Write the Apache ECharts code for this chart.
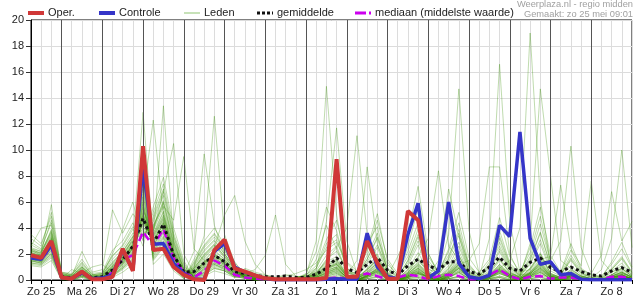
<!DOCTYPE html>
<html><head><meta charset="utf-8">
<script src="https://cdn.jsdelivr.net/npm/echarts@6/dist/echarts.min.js"></script>
<style>html,body{margin:0;padding:0;background:#fff}#c{width:635px;height:300px}</style>
</head><body><div id="c"></div>
<script>
// x index i = 6-hour steps starting Zo 25 06:00 (i=0) to Ma 9 00:00 (i=59)
const dayLabels = ["Zo 25","Ma 26","Di 27","Wo 28","Do 29","Vr 30","Za 31","Zo 1","Ma 2","Di 3","Wo 4","Do 5","Vr 6","Za 7","Zo 8"];
const legendNames = ["Oper.","Controle","Leden","gemiddelde","mediaan (middelste waarde)"];

const oper = [1.9,1.7,3.0,0.2,0.1,0.65,0.05,0.05,0.25,2.4,0.7,10.3,2.3,2.4,1.0,0.4,0.05,0.0,2.3,3.1,
  0.9,0.65,0.35,0.13,0.05,0.05,0.05,0.05,0.05,0.15,9.3,0.25,0.25,3.0,1.3,0.1,0.1,5.3,4.6,0.05];

const controle = [1.7,1.6,2.7,0.2,0.1,0.6,0.1,0.15,0.4,2.3,0.8,8.7,2.75,2.8,1.3,0.5,0.05,0.05,2.2,2.8,
  1.0,0.6,0.35,0.1,0.02,0.02,0.02,0.02,0.02,0.05,0.1,0.05,0.05,3.6,1.0,0.25,0.1,3.5,5.9,0.15,
  0.7,6.0,1.3,0.25,0.1,0.35,4.2,3.35,11.4,3.2,1.2,1.4,0.4,0.5,0.05,0.02,0.02,0.02,0.02,0.02];

const gemiddelde = [1.9,1.7,2.7,0.25,0.15,0.55,0.15,0.26,0.77,1.55,2.6,4.75,2.8,4.3,1.9,0.6,0.65,1.3,1.9,1.4,
  0.65,0.5,0.35,0.25,0.25,0.3,0.2,0.2,0.45,0.9,1.7,0.9,0.55,1.2,1.75,0.75,0.4,1.1,1.6,1.1,
  0.8,1.4,1.4,0.65,0.45,1.0,1.75,0.9,0.7,1.35,1.7,0.95,0.65,1.0,0.65,0.4,0.3,0.7,0.95,0.6];

const mediaan = [1.8,1.6,2.5,0.2,0.1,0.5,0.1,0.1,0.6,1.6,1.9,3.7,2.6,3.9,1.7,0.6,0.2,0.7,1.5,1.1,
  0.4,0.2,0.1,0.05,0.05,0.05,0.05,0.05,0.05,0.1,0.2,0.1,0.3,0.5,0.3,0.05,0.2,0.4,0.3,0.05,
  0.3,0.4,0.3,0.05,0.05,0.4,0.8,0.3,0.05,0.25,0.3,0.1,0.2,0.2,0.05,0.05,0.05,0.25,0.25,0.05];

const leden = [
 [1.8,1.6,2.9,0.2,0.1,0.6,0.1,0.2,0.7,1.5,2.4,5.1,2.8,4.4,1.8,0.4,0.5,1.2,2.0,1.3,0.5, 0.3,0.1,0,0,0,0.1,0.4,3.0, 14.9,5.0,0.6,0.2,0.8,1.5,0.3,0, 0.4,1.2,0.5,0.2,0.6,1.8,0.3,0, 0.2,0.9,0.4,0.1,0.5,1.2,0.3,0.1, 0.4,0.1,0,0,0.3,0.6,0.2],
 [2.1,1.9,3.4,0.3,0.2,0.8,0.2,0.3,1.1,1.9,3.0,4.2,3.5,5.2,2.3,0.7,0.3,0.9,1.5,1.1,0.4, 0.5,0.2,0.1,0,0.1,0,0.2,0.8, 4.5,11.7,3.0,0.5,0.3,0.9,0.1,0, 0.2,0.6,0.2,0,0.3,0.9,0.2,0, 0.1,0.5,0.2,0,0.3,0.8,0.2,0, 0.2,0,0,0,0.1,0.4,0.1],
 [1.6,1.5,2.4,0.1,0.1,0.4,0.0,0.1,0.5,1.2,2.1,6.0,2.2,3.6,1.4,0.3,0.8,1.8,2.6,1.7,0.8, 0.2,0,0,0,0,0,0.1,0.5, 1.5,2.5,4.0,11.1,3.5,1.8,0.4,0.1, 0.3,0.9,0.3,0.1,0.4,1.1,0.2,0, 0.3,1.2,0.5,0.2,0.6,1.5,0.4,0.2, 0.5,0.2,0.1,0,0.2,0.5,0.3],
 [2.4,2.0,3.9,0.4,0.3,1.0,0.3,0.4,1.4,2.2,3.4,3.8,4.1,6.1,2.9,0.9,0.2,0.6,1.2,0.9,0.3, 0.4,0.2,0.1,0.1,0.2,0.1,0,0.2, 0.8,1.2,0.3,0.1,0.5,1.0,0.2,0, 0.6,1.4,0.8,0.6,3.5,14.7,3.8,0.5, 0.2,0.7,0.3,0,0.2,0.6,0.1,0, 0.3,0,0,0,0.2,0.3,0.1],
 [1.4,1.3,2.0,0.1,0.0,0.3,0.1,0.1,0.4,1.0,1.8,7.2,1.8,2.9,1.1,0.2,1.1,2.3,3.1,2.0,1.0, 0.1,0,0,0,0,0,0,0.1, 0.4,0.8,0.2,0,0.3,0.6,0.1,0, 0.1,0.5,0.2,0,0.2,0.7,0.3,0.2, 3.2,16.6,4.5,0.6,0.8,1.8,0.4,0.2, 0.5,0.2,0.1,0,0.3,0.5,0.2],
 [1.9,1.8,3.1,0.2,0.2,0.7,0.1,0.2,0.9,1.7,2.7,4.6,3.2,4.8,2.1,0.5,0.6,1.4,1.9,1.5,0.6, 0.2,0.1,0,0,0,0,0.1,0.3, 0.7,1.0,0.2,0,0.4,0.8,0.1,0, 0.3,0.7,0.2,0,0.4,1.0,0.2,0, 0.3,0.9,1.5,4.0,19.0,6.2,1.2,0.4, 0.6,0.1,0,0,0.2,0.4,0.1],
 [2.7,2.3,4.6,0.5,0.4,1.3,0.4,0.5,1.9,2.6,3.9,3.1,4.9,7.0,3.4,1.2,0.1,0.4,0.9,0.7,0.2, 0.3,0.1,0,0,0,0,0.2,0.4, 1.1,1.4,0.3,0.1,0.6,1.3,0.2,0, 0.5,1.1,0.4,0.1,0.5,1.3,0.3,0, 0.4,1.0,0.5,0.3,2.8,14.7,8.0,1.5, 0.9,0.3,0.1,0,0.3,0.6,0.2],
 [1.2,1.1,1.7,0.0,0.0,0.2,0.0,0.0,0.3,0.8,1.5,8.3,1.5,2.5,0.9,0.1,1.4,2.7,3.6,2.4,1.2, 0.2,0,0,0,0,0,0,0.2, 0.5,0.7,0.1,0,0.3,0.7,0.1,0, 0.2,0.6,0.2,0,0.2,0.6,0.1,0, 0.2,0.6,0.3,0.1,0.5,1.4,1.5,3.0, 10.3,2.5,0.5,0.1,0.4,0.7,0.2],
 [2.0,1.7,2.6,0.2,0.1,0.5,0.2,0.2,0.6,1.4,2.5,5.5,2.6,4.0,1.7,0.4,0.7,1.6,2.3,1.6,0.7, 0.4,0.2,0.1,0,0,0.1,0.3,0.6, 1.3,1.6,0.4,0.2,0.8,1.6,0.4,0.1, 0.6,1.3,0.5,0.2,0.7,1.5,0.4,0.1, 0.4,1.1,0.4,0.1,0.6,1.3,0.4,0.2, 0.6,0.3,0.1,0.8,3.2,10.0,2.5],
 [2.2,2.1,3.6,0.3,0.2,0.9,0.2,0.3,1.2,2.0,3.1,4.0,3.8,5.6,2.6,0.8,0.3,0.8,1.4,1.0,0.3, 0.1,0,0,0,0,0,0.1,0.2, 0.6,0.9,0.2,0,0.3,0.7,0.1,0, 0.2,0.5,0.2,0.1,0.4,1.2,1.5,2.8, 8.7,8.7,2.0,0.4,0.5,1.1,0.3,0.1, 0.4,0.1,0,0,0.2,0.4,0.1],
 [1.7,1.4,2.2,0.1,0.1,0.4,0.1,0.1,0.5,1.1,2.0,6.6,2.0,3.2,1.3,0.3,0.9,2.0,2.8,1.8,0.9, 0.3,0.1,0,0,0,0,0.2,0.4, 0.9,1.2,0.3,0.1,0.5,1.1,0.2,0, 0.4,0.9,0.3,0.1,0.5,1.2,0.3,0.1, 0.3,0.8,0.4,0.2,0.7,1.6,1.8,7.3, 2.4,1.1,7.6,1.5,0.6,0.9,0.3],
 [3.2,2.6,5.2,0.6,0.5,1.6,0.5,0.6,2.3,3.0,4.4,2.6,5.6,7.9,4.0,1.5,0.1,0.3,0.7,0.5,0.2, 0.2,0,0,0,0,0,0.1,0.3, 0.8,1.0,0.2,0,0.3,0.8,0.1,0, 0.3,0.8,0.3,0,0.3,0.9,0.2,0, 0.2,0.6,0.2,0.1,0.4,0.9,0.3,0.1, 0.3,0.2,0.5,1.9,6.8,3.0,4.5],
 [1.5,1.6,2.7,0.2,0.1,0.6,0.1,0.2,0.8,1.6,2.6,4.9,3.0,4.5,1.9,0.5,0.5,1.3,1.8,1.4,0.6, 0.3,0.1,0,0,0,0,0.1,0.4, 1.0,1.3,0.4,1.5,8.7,2.8,0.5,0.1, 0.4,1.0,0.3,0.1,0.5,1.1,0.2,0, 0.3,0.8,0.3,0.1,0.4,1.0,0.3,0.1, 0.3,0.1,0,0,0.2,0.4,0.1],
 [2.3,1.9,3.3,0.3,0.2,0.7,0.2,0.3,1.0,1.8,2.9,4.3,3.4,5.0,2.2,0.6,0.4,1.0,1.6,1.2,0.4, 0.2,0,0,0,0,0,0.1,0.2, 0.6,0.9,0.2,0,0.4,0.9,0.3,1.8, 3.5,7.2,2.1,0.4,0.5,1.2,0.2,0, 0.2,0.7,0.3,0,0.3,0.8,0.2,0, 0.3,0.1,0,0,0.2,0.3,0.1],
 [1.3,1.2,1.9,0.1,0.0,0.3,0.0,0.1,0.4,0.9,1.7,7.7,1.7,2.7,1.0,0.2,1.2,2.5,3.3,2.2,1.1, 0.4,0.2,0.1,0,0,0.1,0.2,0.5, 1.2,1.5,0.4,0.1,0.6,1.4,0.3,0.1, 0.5,1.8,3.2,8.4,2.6,1.6,0.4,0.1, 0.3,1.0,0.4,0.1,0.5,1.3,0.3,0.1, 0.4,0.1,0,0,0.3,0.5,0.2],
 [2.6,4.0,4.2,0.4,0.3,1.1,0.3,0.4,1.6,2.4,3.6,3.5,4.5,6.5,3.1,1.0,0.2,0.5,1.1,0.8,0.3, 0.1,0,0,0,0,0,0,0.1, 0.4,0.6,0.1,0,0.2,0.5,0.1,0, 0.2,0.5,0.3,1.5,7.0,3.4,0.6,0.1, 0.2,0.6,0.2,0,0.3,0.7,0.1,0, 0.2,0,0,0,0.1,0.3,0.1],
 [1.9,1.7,2.8,0.2,0.1,0.6,0.1,0.2,0.7,1.6,2.6,5.0,2.9,4.3,1.9,0.4,0.6,1.3,2.0,1.4,0.6, 0.5,0.8,1.9,5.0,1.2,0.3,0.1,0.3, 0.9,1.1,0.3,0.1,0.5,1.2,0.3,0, 0.4,0.9,0.3,0.1,0.4,1.0,0.2,0, 0.3,0.9,0.4,0.1,0.5,1.2,0.3,0.1, 0.3,0.1,0,0,0.2,0.4,0.1],
 [1.6,1.4,2.3,0.1,0.1,0.5,0.1,0.1,0.6,1.3,2.2,5.8,2.3,3.7,1.5,0.3,0.8,1.7,2.5,5.0,6.5, 3.0,1.2,0.4,0.1,0,0,0.1,0.3, 0.7,1.0,0.2,0,0.4,0.9,0.2,0, 0.3,0.8,0.2,0,0.3,0.9,0.2,0, 0.2,0.7,0.3,0.1,0.4,1.0,0.2,0.1, 0.3,0.1,0,0,0.2,0.4,0.1],
 [2.1,1.8,3.0,0.2,0.2,0.7,0.2,0.2,0.9,1.8,3.2,12.9,3.1,4.6,2.0,0.5,0.6,1.4,1.9,1.3,0.5, 0.2,0.1,0,0,0,0,0.2,0.9, 2.8,3.5,0.8,0.2,1.2,2.5,0.5,0.1, 0.8,2.1,0.7,0.2,0.9,2.2,0.5,0.1, 0.4,1.5,0.6,0.2,0.8,2.0,0.5,0.2, 0.7,0.2,0,0,0.4,0.9,0.3],
 [1.8,1.5,2.5,0.2,0.1,0.5,0.1,0.2,0.8,1.5,2.8,6.2,12.3,5.0,2.4,0.6,0.4,1.1,1.7,1.2,0.5, 0.6,0.3,0.1,0,0.1,0.1,0,0.1, 0.3,0.5,0.1,0,0.2,0.4,0.1,0, 0.1,0.3,0.1,0,0.2,0.5,0.1,0, 0.1,0.3,0.1,0,0.2,0.4,0.1,0, 0.1,0,0,0,0.1,0.2,0],
 [2.0,1.9,3.2,0.3,0.2,0.8,0.2,0.3,1.0,1.9,2.4,4.4,3.3,13.4,3.0,0.8,0.3,0.9,1.5,1.1,0.4, 0.4,0.2,0.1,0,0,0,0.3,1.6, 4.2,2.4,0.5,0.6,2.8,4.1,0.8,0.2, 1.5,3.3,1.1,0.4,1.4,2.9,0.7,0.2, 0.9,3.2,1.1,0.3,1.3,3.1,0.9,0.4, 1.5,0.5,0.2,0.1,0.7,1.3,0.4],
 [1.5,1.3,2.1,0.1,0.1,0.4,0.1,0.1,0.5,1.2,2.1,5.3,3.8,6.8,10.5,2.0,0.5,1.0,1.6,1.2,0.5, 0.2,0.1,0,0,0,0,0,0, 0.1,0.2,0,0,0.1,0.2,0,0, 0,0.1,0,0,0.1,0.2,0,0, 0,0.2,0,0,0.1,0.2,0,0, 0.1,0,0,0,0,0.1,0],
 [2.5,2.2,3.7,0.4,0.3,1.0,0.3,0.4,1.3,2.1,3.3,3.9,4.2,5.7,4.6,9.5,2.4,1.5,1.2,0.8,0.3, 0.8,0.5,0.3,0.2,0.4,0.3,0.2,0.5, 1.6,2.2,0.9,0.4,1.6,3.3,1.2,0.4, 2.2,4.4,1.8,0.6,1.9,3.6,1.1,0.3, 1.2,2.6,0.9,0.4,1.8,4.3,1.4,0.5, 1.9,0.7,0.3,0.2,0.9,1.8,0.6],
 [1.4,1.5,2.6,0.2,0.1,0.6,0.1,0.2,0.7,1.4,2.3,5.6,2.4,3.9,1.6,0.4,2.2,9.7,4.2,2.0,0.9, 0.3,0.1,0,0,0,0,0.1,0.3, 0.9,1.3,0.3,0.1,0.7,1.6,0.3,0.1, 0.5,1.1,0.3,0.1,0.6,1.4,0.3,0, 0.6,2.2,0.7,0.2,0.5,1.1,0.3,0.1, 0.4,0.1,0,0,0.3,0.6,0.2],
 [1.9,1.6,2.7,0.2,0.1,0.5,0.1,0.2,0.8,1.7,2.7,4.8,2.7,4.1,1.8,0.5,1.0,3.4,12.6,3.5,1.3, 0.5,0.2,0,0,0,0,0,0.1, 0.2,0.4,0.1,0,0.2,0.5,0.1,0, 0.2,0.4,0.1,0,0.1,0.3,0.1,0, 0.1,0.3,0.1,0,0.2,0.5,0.1,0, 0.2,0,0,0,0.1,0.2,0.1],
 [2.2,2.0,5.8,0.5,0.3,2.2,0.6,0.8,5.4,3.6,5.1,4.0,3.6,5.3,2.5,0.7,0.3,0.8,1.3,1.0,0.4, 0.4,0.1,0,0,0,0.1,0.5,2.2, 5.6,3.8,0.7,0.3,1.9,3.6,0.6,0.1, 1.1,2.7,0.9,0.3,1.1,2.6,0.6,0.2, 0.7,2.4,0.8,0.3,1.2,2.8,0.7,0.3, 1.1,0.4,0.1,0,0.6,1.1,0.4],
 [1.7,1.6,2.4,0.1,0.8,0.5,1.0,1.2,0.6,1.3,2.4,5.9,2.2,3.4,1.5,0.3,0.9,1.9,2.7,1.9,0.8, 0.2,0,0,0,0,0,0,0.1, 0.3,0.5,0.1,0,0.2,0.6,0.1,0, 0.2,0.5,0.1,0,0.2,0.6,0.1,0, 0.2,0.5,0.2,0,0.2,0.6,0.1,0, 0.2,0.1,0,0,0.1,0.2,0.1],
 [3.5,2.8,4.9,0.6,0.4,1.4,0.4,0.5,2.0,3.9,6.0,3.0,5.2,7.4,3.6,1.3,0.2,0.4,0.9,0.7,0.2, 0.9,0.6,0.4,0.2,0.3,0.5,0.8,1.3, 2.3,2.9,1.4,0.7,2.2,4.6,1.6,0.5, 1.8,3.9,1.5,0.5,2.4,5.2,1.7,0.6, 1.6,4.8,1.8,0.6,2.1,4.9,1.5,0.6, 2.3,0.8,0.4,0.3,1.2,2.4,0.9],
 [1.1,1.0,1.5,0.0,0.0,0.2,0.0,0.0,0.2,0.6,1.2,9.2,1.2,2.0,0.7,0.1,1.6,3.0,4.0,2.7,1.4, 0.3,0.1,0,0,0,0,0.1,0.2, 0.6,0.8,0.2,0,0.3,0.7,0.2,0, 0.3,0.6,0.2,0,0.3,0.8,0.2,0, 0.3,0.8,0.3,0.1,0.3,0.9,0.2,0, 0.3,0.1,0,0,0.2,0.3,0.1],
 [2.0,1.7,2.9,0.2,0.2,0.6,0.2,0.2,0.8,1.6,2.5,4.7,3.1,4.2,2.0,0.5,0.6,1.3,1.9,1.4,0.6, 0.6,0.4,0.2,0.1,0.2,0.2,0.3,0.7, 1.9,2.6,0.6,0.3,1.4,2.7,0.9,0.3, 1.3,3.0,1.2,0.4,1.6,3.4,0.9,0.2, 1.0,2.9,1.0,0.3,1.5,3.6,1.1,0.4, 1.7,0.6,0.2,0.1,0.8,1.6,0.5],
 [1.8,1.7,3.1,0.3,0.2,0.7,0.2,0.2,0.9,1.7,2.6,4.5,3.3,4.7,2.1,0.6,0.5,1.2,1.8,1.3,0.5, 0.1,0,0,0,0,0,0,0, 0.2,0.3,0,0,0.1,0.3,0,0, 0.1,0.2,0.1,0,0.1,0.3,0,0, 0.1,0.2,0,0,0.1,0.3,0,0, 0.1,0,0,0,0.1,0.1,0],
 [2.3,2.1,3.5,0.3,0.2,0.9,0.3,0.3,1.1,2.0,3.0,3.6,3.9,5.9,2.7,0.8,0.3,0.7,1.3,1.0,0.4, 0.4,0.2,0.1,0,0,0,0.2,0.6, 1.4,1.8,0.4,0.1,0.9,2.0,0.4,0.1, 0.7,1.6,0.5,0.1,0.8,1.9,0.4,0.1, 0.5,1.7,0.6,0.2,0.9,2.1,0.5,0.2, 0.8,0.3,0.1,0,0.4,0.8,0.3],
 [1.6,1.4,2.3,0.1,0.1,0.4,0.1,0.1,0.6,1.3,2.2,6.4,2.1,3.3,1.4,0.3,0.9,1.9,2.7,1.8,0.8, 0.2,0.1,0,0,0,0,0,0.1, 0.4,0.6,0.1,0,0.3,0.6,0.1,0, 0.2,0.5,0.2,0,0.2,0.6,0.1,0, 0.2,0.5,0.2,0,0.3,0.6,0.1,0, 0.2,0.1,0,0,0.1,0.3,0.1],
 [2.9,2.4,4.4,0.5,0.4,1.2,0.4,0.5,1.8,2.7,4.1,3.3,4.7,6.8,3.3,1.1,0.2,0.5,1.0,0.7,0.3, 0.7,0.4,0.2,0.1,0.1,0.1,0.4,1.1, 3.1,4.6,1.3,0.5,2.4,5.1,1.4,0.3, 2.6,5.5,2.0,0.6,2.2,4.4,1.2,0.3, 1.4,3.8,1.3,0.5,2.5,5.6,1.9,0.6, 2.8,0.9,0.4,0.2,1.4,2.9,1.0],
 [1.3,1.2,1.8,0.1,0.0,0.3,0.0,0.1,0.3,0.9,1.6,8.0,1.6,2.6,1.0,0.2,1.3,2.6,3.5,2.3,1.1, 0.3,0.1,0,0,0,0,0.1,0.2, 0.5,0.7,0.2,0,0.3,0.7,0.1,0, 0.3,0.7,0.2,0,0.3,0.7,0.2,0, 0.2,0.7,0.2,0,0.3,0.7,0.2,0, 0.3,0.1,0,0,0.1,0.3,0.1],
 [2.0,1.8,2.9,0.2,0.2,0.6,0.2,0.2,0.8,1.6,2.7,4.9,2.9,4.4,1.9,0.5,0.6,1.4,2.0,1.5,0.6, 0.5,0.2,0.1,0,0.1,0.1,0.2,0.5, 1.1,1.5,0.4,0.1,0.8,1.7,0.4,0.1, 0.8,1.7,0.6,0.2,0.9,1.9,0.5,0.1, 0.6,1.6,0.5,0.2,0.9,2.0,0.5,0.2, 0.8,0.3,0.1,0,0.4,0.9,0.3],
 [1.7,1.5,2.6,0.2,0.1,0.5,0.1,0.2,0.7,1.5,2.4,5.2,2.6,4.0,1.7,0.4,0.7,1.5,2.2,1.6,0.7, 0.2,0,0,0,0,0,0,0, 0.1,0.2,0,0,0.1,0.2,0,0, 0.1,0.2,0,0,0.1,0.2,0,0, 0.1,0.2,0,0,0.1,0.2,0,0, 0.1,0,0,0,0,0.1,0],
 [2.4,2.2,3.8,0.4,0.3,1.0,0.3,0.4,1.3,2.2,3.3,3.7,4.0,6.0,2.8,0.9,0.2,0.6,1.2,0.9,0.3, 0.6,0.3,0.1,0,0.1,0.2,0.4,0.9, 2.5,3.1,0.9,0.3,1.6,3.2,0.8,0.2, 1.5,3.5,1.3,0.4,1.7,3.9,1.0,0.3, 1.1,3.4,1.2,0.4,1.6,3.7,1.1,0.4, 1.6,0.5,0.2,0.1,0.8,1.7,0.6],
 [1.5,1.3,2.0,0.1,0.1,0.3,0.1,0.1,0.4,1.0,1.9,7.0,1.9,3.0,1.2,0.2,1.0,2.2,3.0,2.0,1.0, 0.2,0.1,0,0,0,0,0.1,0.2, 0.5,0.9,0.2,0,0.4,0.8,0.2,0, 0.3,0.7,0.2,0,0.4,0.9,0.2,0, 0.3,0.8,0.3,0.1,0.4,0.9,0.2,0.1, 0.4,0.1,0,0,0.2,0.4,0.1],
 [2.1,1.9,3.2,0.3,0.2,0.8,0.2,0.3,1.0,1.8,2.8,4.4,3.4,4.9,2.2,0.6,0.4,1.1,1.7,1.2,0.5, 0.4,0.2,0.1,0,0,0,0.2,0.4, 1.0,1.2,0.3,0.1,0.6,1.3,0.3,0.1, 0.5,1.2,0.4,0.1,0.6,1.4,0.3,0.1, 0.4,1.2,0.4,0.1,0.6,1.4,0.4,0.1, 0.5,0.2,0,0,0.3,0.6,0.2]
];

const FONT = 'Liberation Sans, Arial, sans-serif';
const GREEN = 'rgba(60,145,10,0.33)';
const pts = arr => arr.map((v, i) => [i, v]);
const dayLines = dayLabels.slice(1).map((d, k) => ({ xAxis: 4 * (k + 1) - 1 }));

const series = [];
leden.forEach(m => series.push({
  name: legendNames[2], type: 'line', data: pts(m), symbol: 'none', silent: true,
  lineStyle: { width: 1, color: GREEN }, z: 3
}));
series.push({ name: '__days', type: 'line', data: [], z: 2, silent: true,
  markLine: { silent: true, symbol: ['none','none'], label: { show: false }, animation: false,
    lineStyle: { color: '#555', width: 1, type: 'solid' }, data: dayLines } });
series.push({ name: legendNames[4], type: 'line', data: pts(mediaan), symbol: 'none', z: 4,
  lineStyle: { width: 2.5, color: '#cc00ee', type: [8, 4] } });
series.push({ name: legendNames[3], type: 'line', data: pts(gemiddelde), symbol: 'none', z: 5,
  lineStyle: { width: 3, color: '#111', type: [3, 3] } });
series.push({ name: legendNames[1], type: 'line', data: pts(controle), symbol: 'none', z: 6,
  lineStyle: { width: 3.5, color: '#3535c8' } });
series.push({ name: legendNames[0], type: 'line', data: pts(oper), symbol: 'none', z: 7,
  lineStyle: { width: 4, color: '#d03838' } });

// hand-drawn legend (swatch x positions from the reference)
const legendSpec = [
  { x: 28, stroke: '#d03838', w: 4, dash: null },
  { x: 99, stroke: '#3535c8', w: 4, dash: null },
  { x: 184, stroke: '#b5d9a0', w: 1.5, dash: null },
  { x: 257, stroke: '#111', w: 3, dash: [3, 2] },
  { x: 355, stroke: '#cc00ee', w: 3, dash: [11, 3] }
];
const graphics = [];
legendSpec.forEach((s, k) => {
  graphics.push({ type: 'line', silent: true, shape: { x1: s.x, y1: 13, x2: s.x + 16, y2: 13 },
    style: { stroke: s.stroke, lineWidth: s.w, lineDash: s.dash } });
  graphics.push({ type: 'text', silent: true, x: s.x + 20, y: 13,
    style: { text: legendNames[k], fontSize: 11, fill: '#222', fontFamily: FONT, verticalAlign: 'middle' } });
});
graphics.push({ type: 'text', right: 2, top: 0, silent: true, style: { text: 'Weerplaza.nl - regio midden', fontSize: 9.3, fill: '#a0a0a0', fontFamily: FONT } });
graphics.push({ type: 'text', right: 2, top: 10, silent: true, style: { text: 'Gemaakt: zo 25 mei 09:01', fontSize: 9.3, fill: '#a0a0a0', fontFamily: FONT } });

const chart = echarts.init(document.getElementById('c'), null, { renderer: 'canvas' });
chart.setOption({
  animation: false,
  backgroundColor: '#fff',
  textStyle: { fontFamily: FONT },
  grid: { left: 31, right: 1, top: 20, bottom: 20, show: true, borderColor: '#000', borderWidth: 1, backgroundColor: 'transparent' },
  graphic: graphics,
  xAxis: {
    type: 'value', min: 0, max: 59, interval: 1,
    axisLine: { show: true, lineStyle: { color: '#000', width: 1 } },
    axisTick: { show: true, length: 4, lineStyle: { color: '#000' } },
    axisLabel: { margin: 6, fontSize: 11, color: '#222', fontFamily: FONT,
      formatter: v => ((v - 1) % 4 === 0 ? dayLabels[(v - 1) / 4] : '') },
    splitLine: { show: true, lineStyle: { color: '#dcdcdc', width: 1 } }
  },
  yAxis: {
    type: 'value', min: 0, max: 20, interval: 2,
    axisLine: { show: true, lineStyle: { color: '#000', width: 1 } },
    axisTick: { show: true, length: 5, lineStyle: { color: '#333' } },
    axisLabel: { margin: 7, fontSize: 11, color: '#222', fontFamily: FONT },
    splitLine: { show: true, lineStyle: { color: '#dcdcdc', width: 1 } }
  },
  series: series
});
</script></body></html>
